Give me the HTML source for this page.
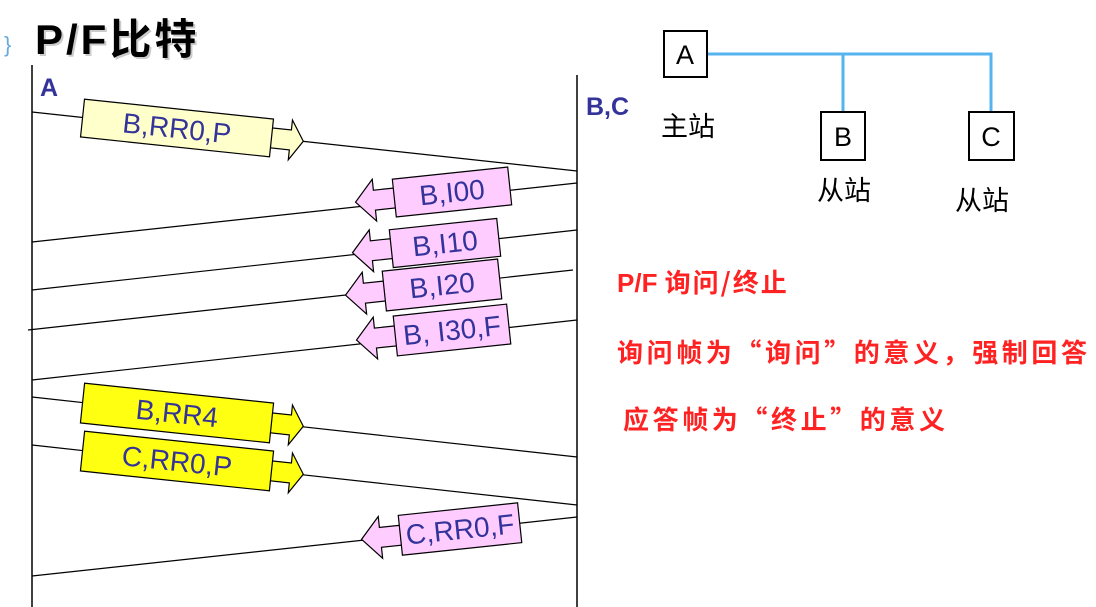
<!DOCTYPE html>
<html><head><meta charset="utf-8"><style>
html,body{margin:0;padding:0;background:#fff;width:1096px;height:607px;overflow:hidden}
svg text{font-family:"Liberation Sans","Noto Sans CJK SC",sans-serif}
</style></head><body>
<svg width="1096" height="607" viewBox="0 0 1096 607" xmlns="http://www.w3.org/2000/svg">
<text x="4" y="52" font-size="22" fill="#66aadd">}</text>
<text x="37" y="56" font-size="42" font-weight="bold" fill="#999" opacity="0.5" letter-spacing="3">P/F比特</text>
<text x="35" y="54" font-size="42" font-weight="bold" fill="#000" letter-spacing="3">P/F比特</text>
<line x1="32" y1="65" x2="32" y2="607" stroke="#000" stroke-width="1.5"/>
<line x1="577" y1="75" x2="577" y2="607" stroke="#000" stroke-width="1.5"/>
<text x="40" y="96" font-size="25" font-weight="bold" fill="#333399">A</text>
<text x="586" y="115" font-size="25" font-weight="bold" fill="#333399">B,C</text>
<g stroke="#000" stroke-width="1.2">
<line x1="32" y1="112" x2="577" y2="171"/>
<line x1="577" y1="183" x2="32" y2="242"/>
<line x1="577" y1="230" x2="32" y2="290"/>
<line x1="573" y1="270" x2="28" y2="330"/>
<line x1="577" y1="320" x2="32" y2="380"/>
<line x1="32" y1="397" x2="577" y2="457"/>
<line x1="32" y1="445" x2="577" y2="505"/>
<line x1="577" y1="517" x2="32" y2="576"/>
</g>
<g stroke="#000" stroke-width="1.2" font-size="28" fill="#333399">
<g transform="translate(177,128) rotate(6)">
 <polygon points="94,-10 114,-10 114,-20 127,0 114,20 114,10 94,10" fill="#ffffcc"/>
 <rect x="-95" y="-19" width="190" height="38" fill="#ffffcc"/>
 <text x="0" y="10" text-anchor="middle" stroke="none">B,RR0,P</text>
</g>
<g transform="translate(177,413) rotate(6)">
 <polygon points="94,-10 114,-10 114,-20 127,0 114,20 114,10 94,10" fill="#ffff11"/>
 <rect x="-95" y="-20" width="190" height="40" fill="#ffff11"/>
 <text x="0" y="10" text-anchor="middle" stroke="none">B,RR4</text>
</g>
<g transform="translate(177,461) rotate(6)">
 <polygon points="94,-10 114,-10 114,-20 127,0 114,20 114,10 94,10" fill="#ffff11"/>
 <rect x="-95" y="-20" width="190" height="40" fill="#ffff11"/>
 <text x="0" y="10" text-anchor="middle" stroke="none">C,RR0,P</text>
</g>
<g transform="translate(452,192) rotate(-6)">
 <polygon points="-57,-10 -78,-10 -78,-21 -97,0 -78,21 -78,10 -57,10" fill="#ffccff"/>
 <rect x="-58" y="-19" width="116" height="38" fill="#ffccff"/>
 <text x="0" y="10" text-anchor="middle" stroke="none">B,I00</text>
</g>
<g transform="translate(445,243) rotate(-6)">
 <polygon points="-53,-10 -74,-10 -74,-21 -93,0 -74,21 -74,10 -53,10" fill="#ffccff"/>
 <rect x="-54" y="-19" width="108" height="38" fill="#ffccff"/>
 <text x="0" y="10" text-anchor="middle" stroke="none">B,I10</text>
</g>
<g transform="translate(442,285) rotate(-6)">
 <polygon points="-57,-10 -78,-10 -78,-21 -97,0 -78,21 -78,10 -57,10" fill="#ffccff"/>
 <rect x="-58" y="-20" width="116" height="40" fill="#ffccff"/>
 <text x="0" y="10" text-anchor="middle" stroke="none">B,I20</text>
</g>
<g transform="translate(452,330) rotate(-6)">
 <polygon points="-56,-10 -77,-10 -77,-21 -96,0 -77,21 -77,10 -56,10" fill="#ffccff"/>
 <rect x="-57" y="-20" width="114" height="40" fill="#ffccff"/>
 <text x="0" y="10" text-anchor="middle" stroke="none">B, I30,F</text>
</g>
<g transform="translate(460,529) rotate(-6)">
 <polygon points="-59,-10 -80,-10 -80,-21 -99,0 -80,21 -80,10 -59,10" fill="#ffccff"/>
 <rect x="-60" y="-20" width="120" height="40" fill="#ffccff"/>
 <text x="0" y="10" text-anchor="middle" stroke="none">C,RR0,F</text>
</g>
</g>
<g stroke="#55b4f0" stroke-width="3" fill="none">
<polyline points="706,54 991,54 991,112"/>
<line x1="843" y1="54" x2="843" y2="112"/>
</g>
<g stroke="#000" stroke-width="2" fill="#fff">
<rect x="664" y="31" width="43" height="46"/>
<rect x="821" y="112" width="44" height="48"/>
<rect x="969" y="112" width="45" height="48"/>
</g>
<g font-size="27" fill="#000" text-anchor="middle">
<text x="685" y="64">A</text>
<text x="843" y="146">B</text>
<text x="991" y="146">C</text>
</g>
<g font-size="27" fill="#000" style="font-family:'Noto Sans CJK SC',sans-serif">
<text x="661" y="136">主站</text>
<text x="817" y="200">从站</text>
<text x="955" y="210">从站</text>
</g>
<g font-size="26" font-weight="bold" fill="#ff2222">
<text x="617" y="292">P/F <tspan letter-spacing="2" style="font-family:'Noto Sans CJK SC',sans-serif">询问/终止</tspan></text>
<text x="617" y="362" letter-spacing="3.6" style="font-family:'Noto Sans CJK SC',sans-serif">询问帧为“询问”的意义，强制回答</text>
<text x="623" y="429" letter-spacing="3.6" style="font-family:'Noto Sans CJK SC',sans-serif">应答帧为“终止”的意义</text>
</g>
</svg>
</body></html>
